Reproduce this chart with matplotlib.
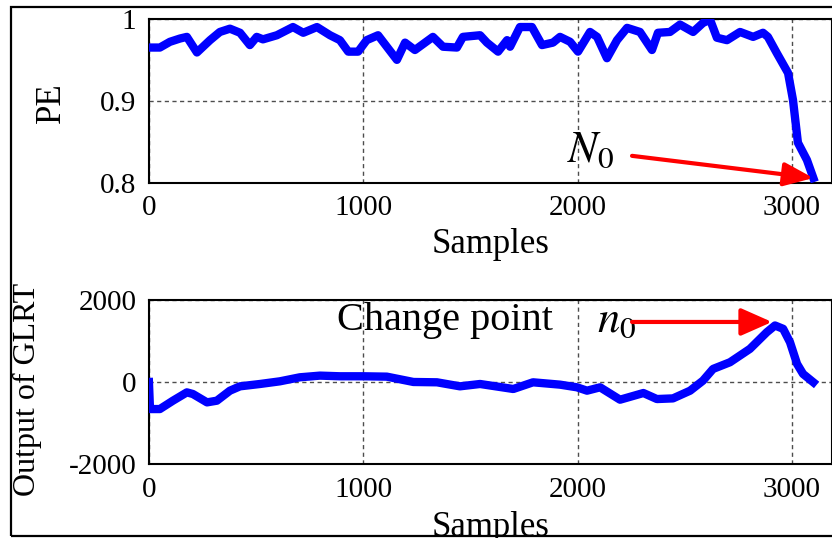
import matplotlib
matplotlib.use('Agg')
import matplotlib.pyplot as plt
from matplotlib.patches import Rectangle

plt.rcParams['font.family'] = ['Liberation Serif', 'DejaVu Serif']
plt.rcParams['mathtext.fontset'] = 'stix'
plt.rcParams['axes.unicode_minus'] = False

# PE curve
pe_x = [0, 51, 98, 145, 177, 224, 285, 331, 378, 425, 471, 503, 532, 597, 672, 720,
        784, 845, 891, 930, 976, 1016, 1069, 1110, 1157, 1195, 1241, 1325, 1372, 1437,
        1465, 1545, 1577, 1629, 1671, 1685, 1731, 1787, 1834, 1885, 1918, 1965, 2002,
        2058, 2091, 2137, 2184, 2231, 2291, 2347, 2375, 2431, 2478, 2539, 2585, 2618,
        2650, 2697, 2758, 2819, 2865, 2888, 2930, 2982, 3005, 3028, 3070, 3100]
pe_y = [0.965, 0.965, 0.972, 0.976, 0.978, 0.959, 0.974, 0.984, 0.988, 0.983, 0.968,
        0.978, 0.975, 0.980, 0.990, 0.983, 0.990, 0.980, 0.974, 0.960, 0.960, 0.974,
        0.980, 0.966, 0.950, 0.971, 0.962, 0.978, 0.966, 0.965, 0.978, 0.980, 0.971,
        0.960, 0.974, 0.966, 0.990, 0.990, 0.968, 0.971, 0.978, 0.972, 0.960, 0.984,
        0.978, 0.952, 0.974, 0.989, 0.984, 0.962, 0.983, 0.984, 0.993, 0.984, 0.995,
        0.999, 0.977, 0.974, 0.984, 0.978, 0.983, 0.978, 0.958, 0.934, 0.901, 0.849,
        0.828, 0.806]

# GLRT output
glrt_x = [0, 5, 51, 112, 177, 205, 271, 317, 378, 425, 518, 611, 704, 798, 891, 1000,
          1110, 1234, 1344, 1451, 1545, 1700, 1792, 1918, 1997, 2044, 2105, 2198, 2307,
          2370, 2445, 2525, 2585, 2632, 2711, 2804, 2883, 2921, 2959, 2991, 3024, 3052,
          3100]
glrt_y = [0, -660, -660, -456, -253, -293, -497, -456, -212, -106, -49, 16, 114, 155,
          139, 139, 130, 0, -8, -106, -49, -171, -8, -65, -130, -212, -130, -432, -269,
          -416, -400, -212, 33, 318, 481, 807, 1214, 1377, 1296, 970, 440, 196, -8]

x_ticks = [0, 1000, 2000, 3000]
pe_ticks = [0.8, 0.9, 1.0]
pe_labels = ['0.8', '0.9', '1']
glrt_ticks = [-2000, 0, 2000]

fig = plt.figure(figsize=(8.32, 5.38), dpi=100)
ax1 = fig.add_axes([0.179, 0.660, 0.821, 0.305])
ax2 = fig.add_axes([0.179, 0.1375, 0.821, 0.305])

for ax in (ax1, ax2):
    ax.set_xlim(0, 3187)
    ax.set_xticks(x_ticks)
    ax.grid(True, linestyle=(0, (3, 2.5)), color='0.3', linewidth=1)
    ax.tick_params(length=0, pad=9, labelsize=21)
    for s in ax.spines.values():
        s.set_linewidth(1.5)

ax1.plot(pe_x, pe_y, color='#0000ff', lw=6, solid_joinstyle='round', zorder=3)
ax1.set_ylim(0.8, 1.0)
ax1.set_yticks(pe_ticks)
ax1.set_yticklabels(pe_labels)
ax1.set_xlabel('Samples', fontsize=25, va='top')
ax1.xaxis.set_label_coords(0.5, -0.275)
ax1.set_ylabel('PE', fontsize=25)
ax1.yaxis.set_label_coords(-0.119, 0.49)
ax1.annotate('', xy=(3100, 0.806), xytext=(2254, 0.833),
             arrowprops=dict(arrowstyle='-|>,head_length=0.9,head_width=0.36',
                             color='red', lw=3, mutation_scale=20,
                             shrinkA=0, shrinkB=0), annotation_clip=False)
ax1.text(1950, 0.826, '$N_0$', fontsize=32, ha='left', va='baseline')

ax2.plot(glrt_x, glrt_y, color='#0000ff', lw=6, solid_joinstyle='round', zorder=3)
ax2.set_ylim(-2000, 2000)
ax2.set_yticks(glrt_ticks)
ax2.set_xlabel('Samples', fontsize=25, va='top')
ax2.xaxis.set_label_coords(0.5, -0.285)
ax2.set_ylabel('Output of GLRT', fontsize=23)
ax2.yaxis.set_label_coords(-0.157, 0.457)
ax2.text(1381, 1488, 'Change point', fontsize=29, ha='center', va='center')
ax2.text(2090, 1220, '$n_0$', fontsize=32, ha='left', va='baseline')
ax2.annotate('', xy=(2907, 1463), xytext=(2254, 1463),
             arrowprops=dict(arrowstyle='-|>,head_length=0.95,head_width=0.42',
                             color='red', lw=3, mutation_scale=20,
                             shrinkA=0, shrinkB=0), annotation_clip=False)

# outer frame around the figure
fig.patches.append(Rectangle((0.0132, 0.0037), 1.1, 0.9833, transform=fig.transFigure,
                             fill=False, edgecolor='black', linewidth=1.6, zorder=10))

fig.savefig('out.png', dpi=100)
